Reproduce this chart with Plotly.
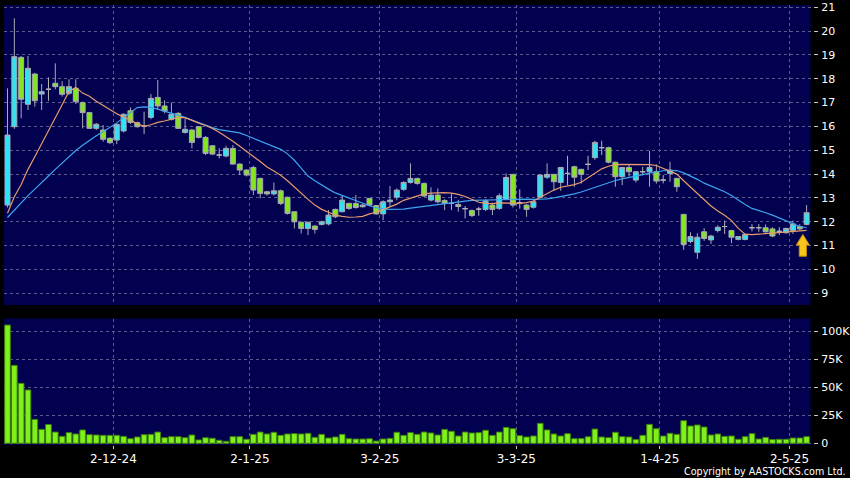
import plotly.graph_objects as go

# ---------------- data ----------------
dates = (
    ["2024-11-%02d" % d for d in [8, 11, 12, 13, 14, 15, 18, 19, 20, 21, 22, 25, 26, 27, 28, 29]]
    + ["2024-12-%02d" % d for d in [2, 3, 4, 5, 6, 9, 10, 11, 12, 13, 16, 17, 18, 19, 20, 23, 24, 27, 30, 31]]
    + ["2025-01-%02d" % d for d in [2, 3, 6, 7, 8, 9, 10, 13, 14, 15, 16, 17, 20, 21, 22, 23, 24, 27, 28]]
    + ["2025-02-%02d" % d for d in [3, 4, 5, 6, 7, 10, 11, 12, 13, 14, 17, 18, 19, 20, 21, 24, 25, 26, 27, 28]]
    + ["2025-03-%02d" % d for d in [3, 4, 5, 6, 7, 10, 11, 12, 13, 14, 17, 18, 19, 20, 21, 24, 25, 26, 27, 28, 31]]
    + ["2025-04-%02d" % d for d in [1, 2, 3, 7, 8, 9, 10, 11, 14, 15, 16, 17, 22, 23, 24, 25, 28, 29, 30]]
    + ["2025-05-%02d" % d for d in [2, 6, 7]]
)

opens = [12.70, 15.99, 18.90, 16.93, 18.20, 17.36, 17.56, 17.81, 17.67, 17.39,
         17.60, 17.00, 16.58, 15.92, 15.85, 15.50, 15.43, 15.81, 16.66, 16.16,
         16.01, 16.38, 17.22, 16.86, 16.30, 16.55, 15.75, 15.85, 15.99, 15.54,
         15.19, 14.80, 14.76, 15.08, 14.42, 14.17, 14.28, 13.82, 13.26, 13.17,
         13.30, 13.03, 12.42, 11.98, 11.72, 11.82, 11.89, 11.91, 12.52, 12.42,
         12.77, 12.77, 12.63, 12.98, 12.68, 12.33, 12.84, 13.03, 13.36, 13.65,
         13.82, 13.61, 12.91, 13.12, 12.89, 12.77, 12.72, 12.55, 12.47, 12.53,
         12.52, 12.70, 12.56, 12.94, 13.99, 12.80, 12.70, 12.61, 13.03, 13.87,
         13.99, 13.65, 14.03, 14.31, 14.20, 14.41, 14.69, 15.11, 15.11, 14.50,
         13.89, 14.28, 13.75, 14.10, 14.10, 14.10, 13.75, 14.03, 13.82, 12.31,
         11.17, 10.72, 11.58, 11.24, 11.63, 11.80, 11.63, 11.26, 11.26, 11.75,
         11.75, 11.75, 11.70, 11.60, 11.54, 11.63, 11.80, 11.89]

highs = [17.60, 20.54, 18.95, 18.96, 18.25, 17.78, 18.06, 18.65, 17.90, 17.98,
         17.98, 17.05, 16.60, 16.15, 16.06, 15.55, 16.12, 16.55, 16.80, 16.20,
         16.62, 17.36, 17.95, 17.10, 17.00, 16.60, 16.34, 15.90, 16.00, 15.60,
         15.20, 15.08, 15.19, 15.22, 14.45, 14.20, 14.35, 13.85, 13.30, 13.65,
         13.35, 13.05, 12.45, 12.00, 12.00, 11.85, 12.05, 12.49, 12.55, 13.08,
         12.80, 13.12, 12.75, 13.00, 12.70, 12.90, 13.50, 13.40, 13.70, 14.45,
         13.85, 13.65, 13.45, 13.40, 12.95, 13.19, 12.92, 12.66, 12.52, 12.62,
         12.95, 12.80, 13.19, 14.03, 14.00, 13.36, 12.75, 12.90, 14.00, 14.45,
         14.00, 14.30, 14.77, 14.35, 14.22, 14.77, 15.40, 15.40, 15.15, 14.52,
         14.30, 14.38, 14.12, 14.30, 14.97, 14.41, 13.96, 14.52, 13.85, 12.33,
         11.56, 11.52, 11.73, 11.45, 11.85, 12.05, 11.66, 11.40, 11.50, 11.90,
         11.90, 11.89, 11.77, 11.77, 11.75, 12.05, 11.90, 12.70]

lows = [12.60, 15.90, 16.34, 16.69, 16.83, 16.69, 17.08, 17.56, 17.25, 17.32,
        16.94, 15.92, 15.90, 15.85, 15.36, 15.26, 15.26, 15.75, 16.10, 15.95,
        15.68, 16.30, 16.69, 16.55, 16.25, 15.90, 15.70, 15.08, 15.50, 14.80,
        14.80, 14.66, 14.70, 14.40, 13.96, 13.90, 13.12, 12.98, 13.10, 13.10,
        12.70, 12.30, 11.72, 11.51, 11.44, 11.51, 11.85, 11.85, 12.15, 12.40,
        12.50, 12.55, 12.60, 12.65, 12.30, 12.07, 12.63, 12.90, 13.30, 13.60,
        13.55, 13.05, 12.85, 12.77, 12.49, 12.49, 12.42, 12.14, 12.20, 12.25,
        12.45, 12.28, 12.50, 12.90, 12.60, 12.55, 12.21, 12.55, 13.00, 13.80,
        13.33, 13.30, 13.54, 13.47, 13.60, 14.17, 14.60, 14.80, 14.45, 13.47,
        13.54, 13.90, 13.65, 13.95, 13.47, 13.60, 13.61, 13.68, 13.26, 10.82,
        11.10, 10.44, 11.20, 11.07, 11.55, 11.49, 11.10, 11.22, 11.22, 11.60,
        11.58, 11.55, 11.35, 11.45, 11.50, 11.49, 11.65, 11.85]

closes = [15.64, 18.93, 17.14, 18.44, 17.08, 17.46, 17.56, 17.67, 17.35, 17.67,
          17.04, 16.58, 15.92, 16.09, 15.46, 15.32, 16.09, 16.51, 16.17, 15.99,
          16.01, 17.18, 16.86, 16.65, 16.51, 15.92, 15.88, 15.33, 15.54, 14.87,
          14.84, 14.80, 15.08, 14.42, 14.17, 13.96, 13.33, 13.19, 13.17, 13.30,
          12.77, 12.35, 12.00, 11.72, 11.98, 11.68, 12.00, 12.28, 12.21, 12.91,
          12.56, 12.60, 12.70, 12.70, 12.33, 12.84, 12.91, 13.33, 13.65, 13.82,
          13.61, 13.08, 13.12, 12.84, 12.77, 12.77, 12.64, 12.55, 12.26, 12.53,
          12.88, 12.52, 13.09, 13.86, 12.70, 12.80, 12.52, 12.84, 13.96, 13.99,
          13.68, 14.28, 14.03, 13.87, 13.99, 14.41, 15.33, 15.11, 14.50, 13.89,
          14.28, 14.10, 14.10, 14.10, 14.28, 13.71, 13.75, 14.17, 13.47, 11.05,
          11.38, 11.35, 11.30, 11.40, 11.77, 11.80, 11.35, 11.38, 11.47, 11.75,
          11.75, 11.58, 11.40, 11.60, 11.72, 11.91, 11.70, 12.38]

ma10 = [12.36, 13.05, 13.56, 14.20, 14.73, 15.26, 15.81, 16.37, 16.91, 17.47,
        17.64, 17.40, 17.27, 17.06, 16.88, 16.68, 16.53, 16.39, 16.27, 16.11,
        16.01, 16.07, 16.17, 16.23, 16.32, 16.38, 16.37, 16.24, 16.14, 16.04,
        15.92, 15.76, 15.58, 15.38, 15.17, 14.97, 14.74, 14.53, 14.30, 14.13,
        13.95, 13.72, 13.45, 13.18, 12.94, 12.70, 12.52, 12.40, 12.28, 12.23,
        12.19, 12.20, 12.23, 12.33, 12.40, 12.51, 12.61, 12.74, 12.90, 13.00,
        13.10, 13.17, 13.20, 13.22, 13.22, 13.20, 13.15, 13.06, 12.94, 12.82,
        12.77, 12.76, 12.79, 12.80, 12.78, 12.77, 12.80, 12.87, 13.02, 13.20,
        13.33, 13.45, 13.50, 13.56, 13.66, 13.84, 14.05, 14.22, 14.33, 14.40,
        14.41, 14.41, 14.41, 14.41, 14.40, 14.36, 14.25, 14.12, 14.00, 13.72,
        13.45, 13.18, 12.90, 12.66, 12.45, 12.27, 12.05, 11.72, 11.48, 11.46,
        11.48, 11.50, 11.53, 11.57, 11.59, 11.61, 11.62, 11.64]

ma20 = [12.18, 12.50, 12.78, 13.10, 13.37, 13.63, 13.92, 14.20, 14.47, 14.74,
        14.99, 15.21, 15.42, 15.61, 15.78, 15.95, 16.15, 16.37, 16.58, 16.79,
        16.82, 16.80, 16.73, 16.65, 16.56, 16.48, 16.38, 16.27, 16.16, 16.05,
        15.95, 15.87, 15.82, 15.78, 15.73, 15.62, 15.50, 15.40, 15.29, 15.16,
        15.04, 14.85, 14.58, 14.25, 13.92, 13.72, 13.53, 13.37, 13.21, 13.10,
        12.98, 12.87, 12.76, 12.67, 12.59, 12.53, 12.52, 12.52, 12.53, 12.57,
        12.61, 12.64, 12.67, 12.70, 12.74, 12.79, 12.84, 12.87, 12.90, 12.91,
        12.92, 12.93, 12.94, 12.95, 12.96, 12.96, 12.95, 12.94, 12.94, 12.96,
        13.00, 13.05, 13.10, 13.17, 13.25, 13.35, 13.45, 13.55, 13.65, 13.73,
        13.80, 13.87, 13.93, 13.98, 14.04, 14.10, 14.14, 14.15, 14.15, 14.05,
        13.92, 13.78, 13.62, 13.50, 13.38, 13.26, 13.10, 12.90, 12.72, 12.56,
        12.48, 12.38, 12.28, 12.16, 12.02, 11.90, 11.80, 11.75]

volumes = [105300, 69400, 53400, 47500, 21300, 12400, 16800, 10000, 6200, 9500,
           8300, 11900, 7700, 7400, 7100, 7100, 7100, 6200, 4100, 5600,
           7700, 8000, 10000, 5000, 5900, 5900, 5000, 7400, 3000, 5000,
           4500, 2700, 1800, 5900, 5900, 3600, 8000, 10000, 8300, 9800,
           7100, 8300, 8600, 8300, 8900, 5300, 8000, 4700, 5600, 8000,
           4100, 3800, 3800, 4100, 2000, 3800, 4400, 9800, 7100, 9500,
           8000, 10000, 9200, 7400, 12400, 10700, 6500, 10000, 9200, 9500,
           11600, 7100, 10000, 14200, 13000, 6800, 5600, 6500, 17800, 11900,
           8300, 6500, 8600, 4100, 4200, 5800, 12700, 5600, 5000, 9800,
           5900, 5600, 3300, 7100, 16900, 13000, 6500, 8900, 8000, 20100,
           15400, 16300, 14500, 7400, 8300, 6200, 6500, 3600, 5900, 8600,
           3800, 5300, 3300, 3600, 3600, 4700, 4700, 5900]

price_ticks = [9, 10, 11, 12, 13, 14, 15, 16, 17, 18, 19, 20, 21]
vol_ticks = [0, 25000, 50000, 75000, 100000]
vol_tick_labels = ["0", "25K", "50K", "75K", "100K"]

# ---------------- styling ----------------
BG = "#000000"
PLOT_BG = "#010150"
GRID = "#5b5b8e"
UP_FILL = "#2ee4f4"
DOWN_FILL = "#84e61e"
WICK = "#a8aab4"
DOJI = "#b4b4bc"
VOL_FILL = "#7ff01c"
VOL_LINE = "#3d7e0c"
MA10_COLOR = "#e89b6c"
MA20_COLOR = "#3ea6ee"
FONT = "DejaVu Sans"

idx = list(range(len(dates)))


def subset(kind):
    if kind == "up":
        ii = [i for i in idx if closes[i] > opens[i]]
    elif kind == "down":
        ii = [i for i in idx if closes[i] < opens[i]]
    else:
        ii = [i for i in idx if closes[i] == opens[i]]
    return dict(x=ii, open=[opens[i] for i in ii], high=[highs[i] for i in ii],
                low=[lows[i] for i in ii], close=[closes[i] for i in ii])


fig = go.Figure()
for kind, fill, lc in [("up", UP_FILL, WICK), ("down", DOWN_FILL, WICK), ("doji", DOJI, DOJI)]:
    d = subset(kind)
    fig.add_trace(go.Candlestick(
        **d, xaxis="x", yaxis="y",
        increasing=dict(fillcolor=fill, line=dict(color=lc, width=1)),
        decreasing=dict(fillcolor=fill, line=dict(color=lc, width=1)),
        whiskerwidth=0, hoverinfo="skip", showlegend=False))

fig.add_trace(go.Scatter(x=idx, y=ma20, mode="lines", line=dict(color=MA20_COLOR, width=1.2),
                         xaxis="x", yaxis="y", hoverinfo="skip", showlegend=False))
fig.add_trace(go.Scatter(x=idx, y=ma10, mode="lines", line=dict(color=MA10_COLOR, width=1.2),
                         xaxis="x", yaxis="y", hoverinfo="skip", showlegend=False))

fig.add_trace(go.Bar(x=idx, y=volumes, xaxis="x2", yaxis="y2",
                     marker=dict(color=VOL_FILL, line=dict(color=VOL_LINE, width=1)),
                     hoverinfo="skip", showlegend=False))

# month ticks: first trading day of each month (grid at candle boundary)
tick_pos, tick_txt = [], []
for i in range(1, len(dates)):
    if dates[i][5:7] != dates[i - 1][5:7]:
        y, m, d = dates[i].split("-")
        tick_pos.append(i - 0.5)
        tick_txt.append("%d-%d-%s" % (int(d), int(m), y[2:]))

# ---------------- geometry ----------------
W, H = 850, 478
ML, MR, MT, MB = 4, 37, 5, 33
plot_w = W - ML - MR
plot_h = H - MT - MB
sub_right = 810.5
x_dom = [0, (sub_right - ML) / plot_w]
price_dom = [(H - MB - 305) / plot_h, 1]
vol_dom = [0, (H - MB - 318.5) / plot_h]
x_range = [-0.512, 117.57]
price_range = [8.507, 21.097]
vol_range = [-1514, 111130]

axis_common = dict(showline=False, zeroline=False, gridcolor=GRID, griddash="3px,3px", gridwidth=1)
ytick_font = dict(family=FONT, size=11, color="#ffffff")

fig.update_layout(
    width=W, height=H,
    margin=dict(l=ML, r=MR, t=MT, b=MB, pad=0, autoexpand=False),
    paper_bgcolor=BG, plot_bgcolor=PLOT_BG,
    font=dict(family=FONT, color="#ffffff", size=12),
    boxgap=0.27, boxgroupgap=0.0, bargap=0.17,
    showlegend=False,
    xaxis=dict(domain=x_dom, range=x_range, anchor="y", tickmode="array", tickvals=tick_pos,
               ticktext=tick_txt, showticklabels=False, ticks="", showgrid=True,
               rangeslider=dict(visible=False), **axis_common),
    xaxis2=dict(domain=x_dom, range=x_range, anchor="y2", matches="x", tickmode="array",
                tickvals=tick_pos, ticktext=tick_txt, showticklabels=True, ticks="outside",
                ticklen=3, tickcolor="#c8c8c8", tickfont=dict(family=FONT, size=12, color="#ffffff"),
                showgrid=True, **axis_common),
    yaxis=dict(domain=price_dom, range=price_range, anchor="free", position=1, side="right",
               tickmode="array", tickvals=price_ticks, ticks="outside", ticklen=4,
               tickcolor="#c8c8c8", ticklabelstandoff=1, tickfont=ytick_font,
               showgrid=True, **axis_common),
    yaxis2=dict(domain=vol_dom, range=vol_range, anchor="free", position=1, side="right",
                tickmode="array", tickvals=vol_ticks, ticktext=vol_tick_labels, ticks="outside",
                ticklen=4, tickcolor="#c8c8c8", ticklabelstandoff=1, tickfont=ytick_font,
                showgrid=True, **axis_common),
)

# yellow marker arrow under the latest candles (pixel-sized shape)
px_x = (sub_right - ML) / (x_range[1] - x_range[0])
px_y = (305 - MT) / (price_range[1] - price_range[0])
ARROW_X = len(dates) - 1.55
ARROW_TIP = 11.47
outline = [(0, 0), (6.6, 10.7), (3.6, 10.7), (3.6, 21.8), (-3.6, 21.8), (-3.6, 10.7), (-6.6, 10.7)]
path = " ".join(("M" if j == 0 else "L") + " %.4f,%.4f" % (ARROW_X + dx / px_x, ARROW_TIP - dy / px_y)
                for j, (dx, dy) in enumerate(outline)) + " Z"
fig.add_shape(type="path", path=path, xref="x", yref="y",
              fillcolor="#f7c51e", line=dict(color="#c98d00", width=1), layer="above")

fig.add_annotation(text="Copyright by AASTOCKS.com Ltd.", xref="paper", yref="paper",
                   x=(848 - ML) / plot_w, y=(H - MB - 471.7) / plot_h,
                   xanchor="right", yanchor="middle", showarrow=False,
                   font=dict(family=FONT, size=9.6, color="#ffffff"))

fig.write_html("out.html", config={"displayModeBar": False},
               post_script="document.body.style.margin='0px';document.body.style.overflow='hidden';")
